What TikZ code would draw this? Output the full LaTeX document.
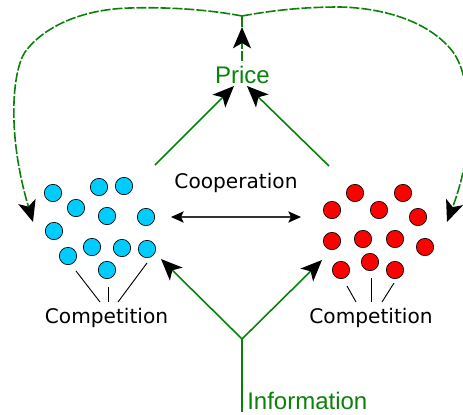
\documentclass[tikz,border=0pt]{standalone}
\usepackage{fontspec}
\setmainfont{DejaVu Sans}
\newfontfamily\labelfont{Liberation Sans}
\usetikzlibrary{arrows.meta}
\definecolor{flowgreen}{RGB}{10,130,10}
\definecolor{bluedot}{RGB}{0,204,255}
\definecolor{reddot}{RGB}{255,0,0}
\tikzset{
  bigtip/.tip={Stealth[length=16pt,width=13.5pt,inset=4pt,black]},
  smalltip/.tip={Stealth[length=9.5pt,width=8.5pt,inset=2pt,black]},
  flow/.style={draw=flowgreen,line width=1.2pt,-bigtip},
  plainflow/.style={draw=flowgreen,line width=1.2pt},
  feedback/.style={draw=flowgreen,line width=1.2pt,dash pattern=on 7.5pt off 1.5pt,-bigtip},
  tick/.style={draw=black,line width=0.7pt},
  dot/.style={circle,draw=black,line width=0.5pt,minimum size=13pt,inner sep=0pt},
  bluecell/.style={dot,fill=bluedot},
  redcell/.style={dot,fill=reddot},
  blacklabel/.style={font=\fontsize{15.1}{18}\selectfont,text=black,inner sep=0pt,anchor=base},
  greenlabel/.style={font=\labelfont\fontsize{18}{22}\selectfont,text=flowgreen,inner sep=0pt,anchor=base}
}
\begin{document}
\begin{tikzpicture}[x=0.75pt,y=-0.75pt]
\useasboundingbox (0,0) rectangle (463,414);
% blue cluster
\foreach \n/\x/\y in {b1/53/193,b2/99/187,b3/124/186,b4/76/208,b5/107/216,b6/146/217,b7/54/231,b8/92/247,b9/122/248,b10/147/249,b11/68/256,b12/107/270}
  \node[bluecell] (\n) at (\x,\y) {};
% red cluster
\foreach \n/\x/\y in {r1/355/193,r2/403/193,r3/332/210,r4/379/210,r5/418/217,r6/332/241,r7/363/239,r8/395/239,r9/425/247,r10/370/262,r11/341/270,r12/395/270}
  \node[redcell] (\n) at (\x,\y) {};
% labels
\node[blacklabel] (compL) at (106.5,323) {Competition};
\node[blacklabel] (compR) at (371,323) {Competition};
\node[blacklabel] (coop) at (236,188) {Cooperation};
\node[greenlabel] (price) at (242.5,83) {Price};
\node[greenlabel,anchor=base west] (info) at (247,409) {Information};
% anchors
\coordinate (junction) at (242,339);
\coordinate (infoBase) at (242,412);
\coordinate (toBlue) at (161,259);
\coordinate (toRed) at (322,260);
\coordinate (fromBlue) at (155,165);
\coordinate (fromRed) at (329,166);
\coordinate (toPriceL) at (234,86);
\coordinate (toPriceR) at (247,86);
\coordinate (priceTop) at (242,61);
\coordinate (priceTip) at (242,27);
\coordinate (apex) at (242,16);
\coordinate (topL) at (130,8);
\coordinate (shoulderL) at (25,52);
\coordinate (fbL) at (33,222);
\coordinate (topR) at (340,7);
\coordinate (shoulderR) at (453,52);
\coordinate (fbR) at (447,222);
\coordinate (coopL) at (171,217);
\coordinate (coopR) at (301,217);
% green flows
\draw[plainflow] (infoBase) -- (junction);
\draw[flow] (junction) -- (toBlue);
\draw[flow] (junction) -- (toRed);
\draw[flow] (fromBlue) -- (toPriceL);
\draw[flow] (fromRed) -- (toPriceR);
\draw[plainflow] (priceTip) -- (apex);
\draw[feedback] (priceTop) -- (priceTip);
\draw[feedback] (apex) .. controls (205,9) and (165,7) .. (topL) .. controls (85,9) and (45,25) .. (shoulderL) .. controls (12,72) and (7,135) .. (fbL);
\draw[feedback] (apex) .. controls (280,9) and (310,7) .. (topR) .. controls (385,8) and (430,22) .. (shoulderR) .. controls (470,75) and (478,140) .. (fbR);
% cooperation
\draw[black!80,line width=0.8pt,smalltip-smalltip] (coopL) -- (coopR);
% ticks
\coordinate (t1a) at (76,271); \coordinate (t1b) at (100,302);
\coordinate (t2a) at (108,287); \coordinate (t2b) at (108,302);
\coordinate (t3a) at (147,263); \coordinate (t3b) at (118,302);
\coordinate (t4a) at (347,286); \coordinate (t4b) at (356,302);
\coordinate (t5a) at (371,278); \coordinate (t5b) at (371,302);
\coordinate (t6a) at (394,283); \coordinate (t6b) at (382,302);
\foreach \i in {1,...,6} \draw[tick] (t\i a) -- (t\i b);
\end{tikzpicture}
\end{document}
